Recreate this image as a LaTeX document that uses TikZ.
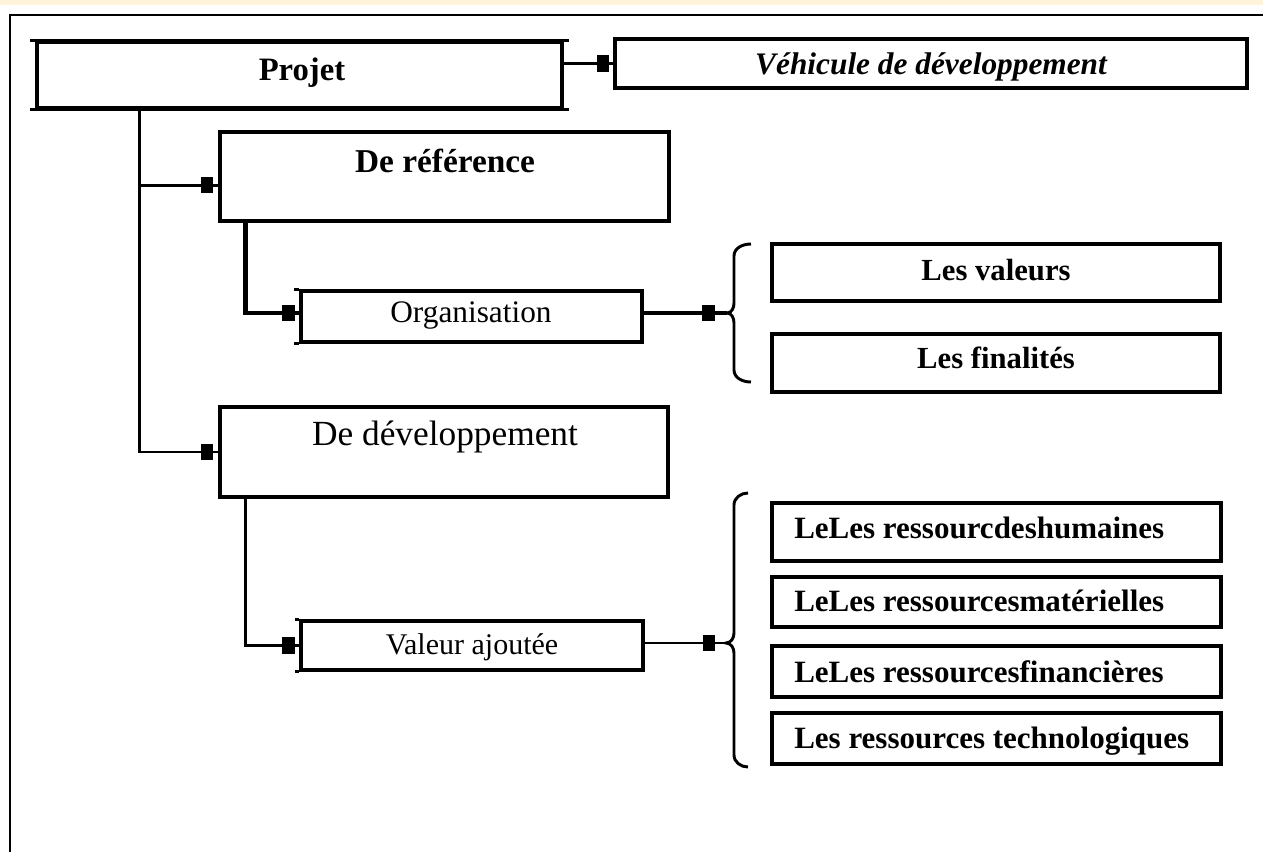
\documentclass[tikz,border=0pt]{standalone}
\usepackage{fontspec}
\setmainfont{Liberation Serif}
\usetikzlibrary{arrows.meta,calc}
\definecolor{cream}{HTML}{FFF3DC}
\begin{document}
\begin{tikzpicture}[x=0.75pt,y=-0.75pt,
  bx/.style={draw, line width=2.3pt, rectangle, inner sep=0pt},
  bxr/.style={draw, line width=2.6pt, rectangle, inner sep=0pt},
  ovh/.style={line width=2.3pt},
  conn/.style={line width=2.2pt},
  connthick/.style={line width=3.2pt},
  arr/.style={postaction={draw, -{Square[length=9.5pt,width=12.5pt]}, shorten >=#1}},
  bracestyle/.style={line width=2.2pt},
  lbl/.style={anchor=base, inner sep=0pt},
  lblw/.style={anchor=base west, inner sep=0pt},
  fs/.style={font=\fontsize{#1}{#1}\selectfont},
  fb/.style={font=\bfseries\fontsize{#1}{#1}\selectfont},
  fbi/.style={font=\bfseries\itshape\fontsize{#1}{#1}\selectfont}
]
\useasboundingbox (0,0) rectangle (1263,851);
\clip (0,0) rectangle (1263,851);
\fill[white] (0,0) rectangle (1263,851);
\fill[cream] (0,0) rectangle (1263,4.5);
% outer frame
\draw[line width=2.2pt] (10,880) -- (10,15) -- (1290,15);

% boxes
\node[bx, minimum width=393.75pt, minimum height=49.5pt] (proj) at (299.5,75) {};
\node[bxr, minimum width=474pt, minimum height=36.75pt] (veh) at (931,63.5) {};
\node[bx, minimum width=336.75pt, minimum height=66.75pt] (ref) at (444.5,176.5) {};
\node[bx, minimum width=255.75pt, minimum height=38.25pt] (org) at (471.5,316.5) {};
\node[bxr, minimum width=336pt, minimum height=42.75pt] (vals) at (996,272.5) {};
\node[bxr, minimum width=336pt, minimum height=43.5pt] (fins) at (996,363) {};
\node[bx, minimum width=336pt, minimum height=67.5pt] (dev) at (444,452) {};
\node[bx, minimum width=256.5pt, minimum height=36.75pt] (vaj) at (472,645.5) {};
\node[bxr, minimum width=336.75pt, minimum height=43.5pt] (r1) at (996.5,532) {};
\node[bxr, minimum width=336.75pt, minimum height=37.5pt] (r2) at (996.5,602) {};
\node[bxr, minimum width=336.75pt, minimum height=38.25pt] (r3) at (996.5,671.5) {};
\node[bxr, minimum width=336.75pt, minimum height=38.25pt] (r4) at (996.5,738.5) {};

% overhanging edges
\draw[ovh] ([xshift=-3.75pt]proj.north west) -- ([xshift=3.75pt]proj.north east);
\draw[ovh] ([xshift=-3.75pt]proj.south west) -- ([xshift=3.75pt]proj.south east);
\draw[ovh] ([xshift=-3.75pt]org.north west) -- (org.north west);
\draw[ovh] ([xshift=-3.75pt]org.south west) -- (org.south west);
\draw[ovh] ([xshift=-3pt]vaj.north west) -- (vaj.north west);
\draw[ovh] ([xshift=-3pt]vaj.south west) -- (vaj.south west);

% texts
\node[lbl, fb=24.5pt] (projT) at (302,80) {Projet};
\node[lbl, fbi=23.5pt] (vehT) at (931,74) {Véhicule de développement};
\node[lbl, fb=25pt] (refT) at (445,172) {De référence};
\node[lbl, fs=23.5pt] (orgT) at (471,322) {Organisation};
\node[lbl, fb=23pt] (valsT) at (996,280) {Les valeurs};
\node[lbl, fb=23pt] (finsT) at (996,368) {Les finalités};
\node[lbl, fs=26.5pt] (devT) at (445,445) {De développement};
\node[lbl, fs=22.5pt] (vajT) at (472,654) {Valeur ajoutée};
\node[lblw, fb=23.25pt] (r1T) at (794,538) {LeLes ressourcdeshumaines};
\node[lblw, fb=23.25pt] (r2T) at (794,611) {LeLes ressourcesmatérielles};
\node[lblw, fb=23.25pt] (r3T) at (794,682) {LeLes ressourcesfinancières};
\node[lblw, fb=23.25pt] (r4T) at (794,748) {Les ressources technologiques};

% braces
\coordinate (b1) at (727,313);
\coordinate (b2) at (726,643);
\draw[bracestyle] (751,244) to[out=180,in=90] (734,256) -- (734,303)
  to[out=270,in=0] (b1) to[out=0,in=90] (734,323) -- (734,370)
  to[out=270,in=180] (751,382);
\draw[bracestyle] (748,493) to[out=180,in=90] (734,505) -- (734,633)
  to[out=270,in=0] (b2) to[out=0,in=90] (734,653) -- (734,755)
  to[out=270,in=180] (748,767);

% connectors
\draw[conn, arr=3pt] (proj.east |- veh.west) -- (veh.west);
\coordinate (t0) at ($(proj.south west)+(104,0)$);
\draw[conn, arr=3.75pt] (t0) |- (dev.west);
\coordinate (refin) at ([yshift=-6.4pt]ref.west);
\draw[conn, arr=3.75pt] (t0 |- refin) -- (refin);
\coordinate (orgin) at ([yshift=2.6pt]org.west);
\draw[connthick, arr=3.5pt] ($(ref.south west)+(27,0)$) |- (orgin);
\draw[connthick, arr=9pt] (org.east |- b1) -- (b1);
\draw[conn, arr=3.5pt] ($(dev.south west)+(27,0)$) |- (vaj.west);
\draw[conn, arr=8pt] (vaj.east |- b2) -- (b2);
\end{tikzpicture}
\end{document}
